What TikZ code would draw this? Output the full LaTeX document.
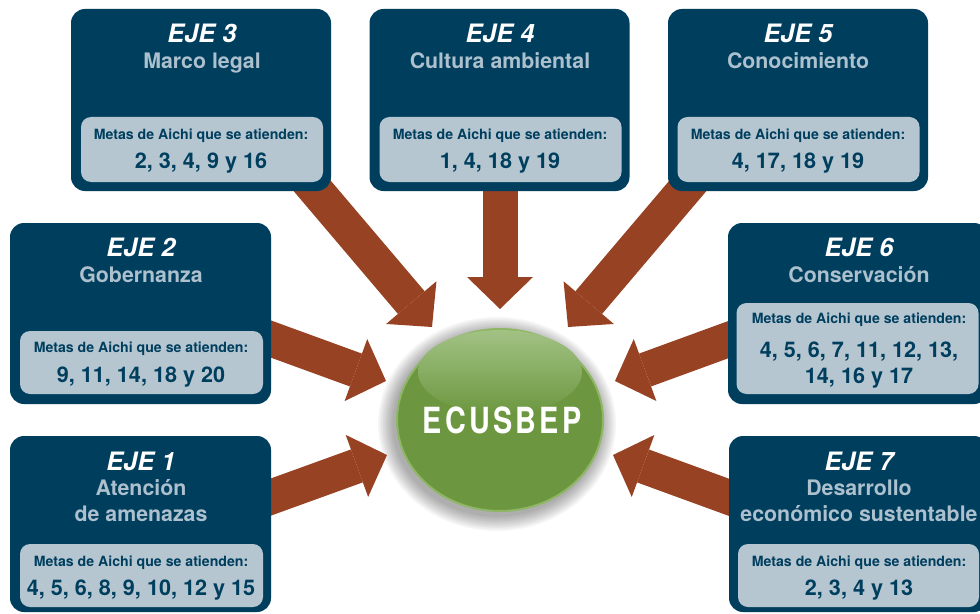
\documentclass[tikz,border=0pt]{standalone}
\usepackage{fontspec}
\setmainfont{TeX Gyre Heros}
\newfontfamily\ecufont{TeX Gyre Heros}[FakeStretch=0.8,LetterSpace=9]
\usetikzlibrary{arrows.meta,shapes.geometric}

\definecolor{ejeazul}{RGB}{0,62,94}
\definecolor{ejeclaro}{RGB}{181,198,209}
\definecolor{ejegris}{RGB}{172,192,205}
\definecolor{flechacafe}{RGB}{152,66,36}
\definecolor{coreverde}{RGB}{108,151,64}
\definecolor{corebrillo}{RGB}{162,194,132}
\definecolor{coreborde}{RGB}{142,182,100}

\tikzset{
  ejebox/.style={fill=ejeazul, rounded corners=10.5pt, inner sep=0pt},
  metabox/.style={fill=ejeclaro, rounded corners=7.5pt, inner sep=0pt},
  ejetit/.style={anchor=base, inner sep=0pt, text=white, font=\fontsize{19}{22}\selectfont\bfseries\itshape},
  ejesub/.style={anchor=base, inner sep=0pt, text=ejegris, font=\fontsize{16}{19}\selectfont\bfseries},
  metatxt/.style={anchor=base, inner sep=0pt, text=ejeazul, font=\fontsize{10.6}{12}\selectfont\bfseries},
  metanum/.style={anchor=base, inner sep=0pt, text=ejeazul, font=\fontsize{16.2}{19}\selectfont\bfseries},
  flecha/.style={draw=flechacafe, line width=26.25pt, -{Triangle[length=24pt,width=49.5pt,line width=0pt]}},
  core/.style={ellipse, fill=coreverde, draw=coreborde, line width=1.5pt, minimum width=154.5pt, minimum height=136.5pt, inner sep=0pt},
  coretxt/.style={inner sep=0pt, text=white, font=\ecufont\fontsize{27}{29}\selectfont\bfseries}
}

\begin{document}
\begin{tikzpicture}[x=0.75pt,y=0.75pt,yscale=-1,xscale=1]
\clip (0,0) rectangle (980,613);
\fill[white] (0,0) rectangle (980,613);

%Shadow of the centre
\foreach \k in {1,...,10}
  \fill[black, opacity=0.035] (497,424) ellipse ({103+\k*1.6} and {91+\k*1.6});

%Arrow ends
\coordinate (a1s) at (250,504.6);
\coordinate (a1t) at (387,455);
\coordinate (a2s) at (250,331.4);
\coordinate (a2t) at (386,381);
\coordinate (a3s) at (298.7,170);
\coordinate (a3t) at (432,327);
\coordinate (a4s) at (500,185);
\coordinate (a4t) at (500,309);
\coordinate (a5s) at (701.3,170);
\coordinate (a5t) at (568,327);
\coordinate (a6s) at (750,331.7);
\coordinate (a6t) at (615,381);
\coordinate (a7s) at (750,505);
\coordinate (a7t) at (613,455);

%Arrows
\draw[flecha] (a1s) -- (a1t);
\draw[flecha] (a2s) -- (a2t);
\draw[flecha] (a3s) -- (a3t);
\draw[flecha] (a4s) -- (a4t);
\draw[flecha] (a5s) -- (a5t);
\draw[flecha] (a6s) -- (a6t);
\draw[flecha] (a7s) -- (a7t);

%Rounded Rect EJE 3
\node[ejebox, minimum width=195pt, minimum height=136.5pt] (eje3) at (201,100) {};
\node[metabox, minimum width=181.5pt, minimum height=48.75pt] (meta3) at (202,149.5) {};
% Text Node
\node[ejetit] (tit3) at (202,43) {EJE 3};
\node[ejesub] (sub3) at (202,69) {Marco legal};
\node[metatxt] (txt3) at (201,140) {Metas de Aichi que se atienden:};
\node[metanum] (num3) at (201,168) {2, 3, 4, 9 y 16};

%Rounded Rect EJE 4
\node[ejebox, minimum width=195pt, minimum height=136.5pt] (eje4) at (499.5,100) {};
\node[metabox, minimum width=181.5pt, minimum height=48.75pt] (meta4) at (500.5,149.5) {};
% Text Node
\node[ejetit] (tit4) at (500,43) {EJE 4};
\node[ejesub] (sub4) at (500,69) {Cultura ambiental};
\node[metatxt] (txt4) at (500,140) {Metas de Aichi que se atienden:};
\node[metanum] (num4) at (500,168) {1, 4, 18 y 19};

%Rounded Rect EJE 5
\node[ejebox, minimum width=195pt, minimum height=136.5pt] (eje5) at (798,100) {};
\node[metabox, minimum width=181.5pt, minimum height=48.75pt] (meta5) at (798.5,149.5) {};
% Text Node
\node[ejetit] (tit5) at (798,43) {EJE 5};
\node[ejesub] (sub5) at (798,69) {Conocimiento};
\node[metatxt] (txt5) at (798,140) {Metas de Aichi que se atienden:};
\node[metanum] (num5) at (798,168) {4, 17, 18 y 19};

%Rounded Rect EJE 2
\node[ejebox, minimum width=195.75pt, minimum height=135.75pt] (eje2) at (140.5,313.5) {};
\node[metabox, minimum width=182.25pt, minimum height=47.25pt] (meta2) at (141.5,362.5) {};
% Text Node
\node[ejetit] (tit2) at (141,256) {EJE 2};
\node[ejesub] (sub2) at (141,282) {Gobernanza};
\node[metatxt] (txt2) at (141,352) {Metas de Aichi que se atienden:};
\node[metanum] (num2) at (141,382) {9, 11, 14, 18 y 20};

%Rounded Rect EJE 1
\node[ejebox, minimum width=195.75pt, minimum height=132pt] (eje1) at (140.5,524) {};
\node[metabox, minimum width=182.25pt, minimum height=47.25pt] (meta1) at (141.5,575.5) {};
% Text Node
\node[ejetit] (tit1) at (141,470) {EJE 1};
\node[ejesub] (sub1a) at (141,495) {Atención};
\node[ejesub] (sub1b) at (141,521) {de amenazas};
\node[metatxt] (txt1) at (141,566) {Metas de Aichi que se atienden:};
\node[metanum] (num1) at (141,595) {4, 5, 6, 8, 9, 10, 12 y 15};

%Rounded Rect EJE 6
\node[ejebox, minimum width=195pt, minimum height=135.75pt] (eje6) at (858,313.5) {};
\node[metabox, minimum width=181.5pt, minimum height=68.25pt] (meta6) at (857.5,348.5) {};
% Text Node
\node[ejetit] (tit6) at (859,256) {EJE 6};
\node[ejesub] (sub6) at (859,282) {Conservación};
\node[metatxt] (txt6) at (859,323) {Metas de Aichi que se atienden:};
\node[metanum] (num6a) at (859,357) {4, 5, 6, 7, 11, 12, 13,};
\node[metanum] (num6b) at (859,383) {14, 16 y 17};

%Rounded Rect EJE 7
\node[ejebox, minimum width=194.25pt, minimum height=132pt] (eje7) at (858.5,524) {};
\node[metabox, minimum width=180.75pt, minimum height=47.25pt] (meta7) at (858.5,575.5) {};
% Text Node
\node[ejetit] (tit7) at (859,470) {EJE 7};
\node[ejesub] (sub7a) at (859,495) {Desarrollo};
\node[ejesub] (sub7b) at (859,521) {económico sustentable};
\node[metatxt] (txt7) at (859,566) {Metas de Aichi que se atienden:};
\node[metanum] (num7) at (859,595) {2, 3, 4 y 13};

%Ellipse ECUSBEP
\node[core] (core) at (500,420) {};
\shade[top color=corebrillo, bottom color=coreverde] (500,372) ellipse (82 and 42);
\node[coretxt] (coretxt) at (502,420) {ECUSBEP};

\end{tikzpicture}
\end{document}
